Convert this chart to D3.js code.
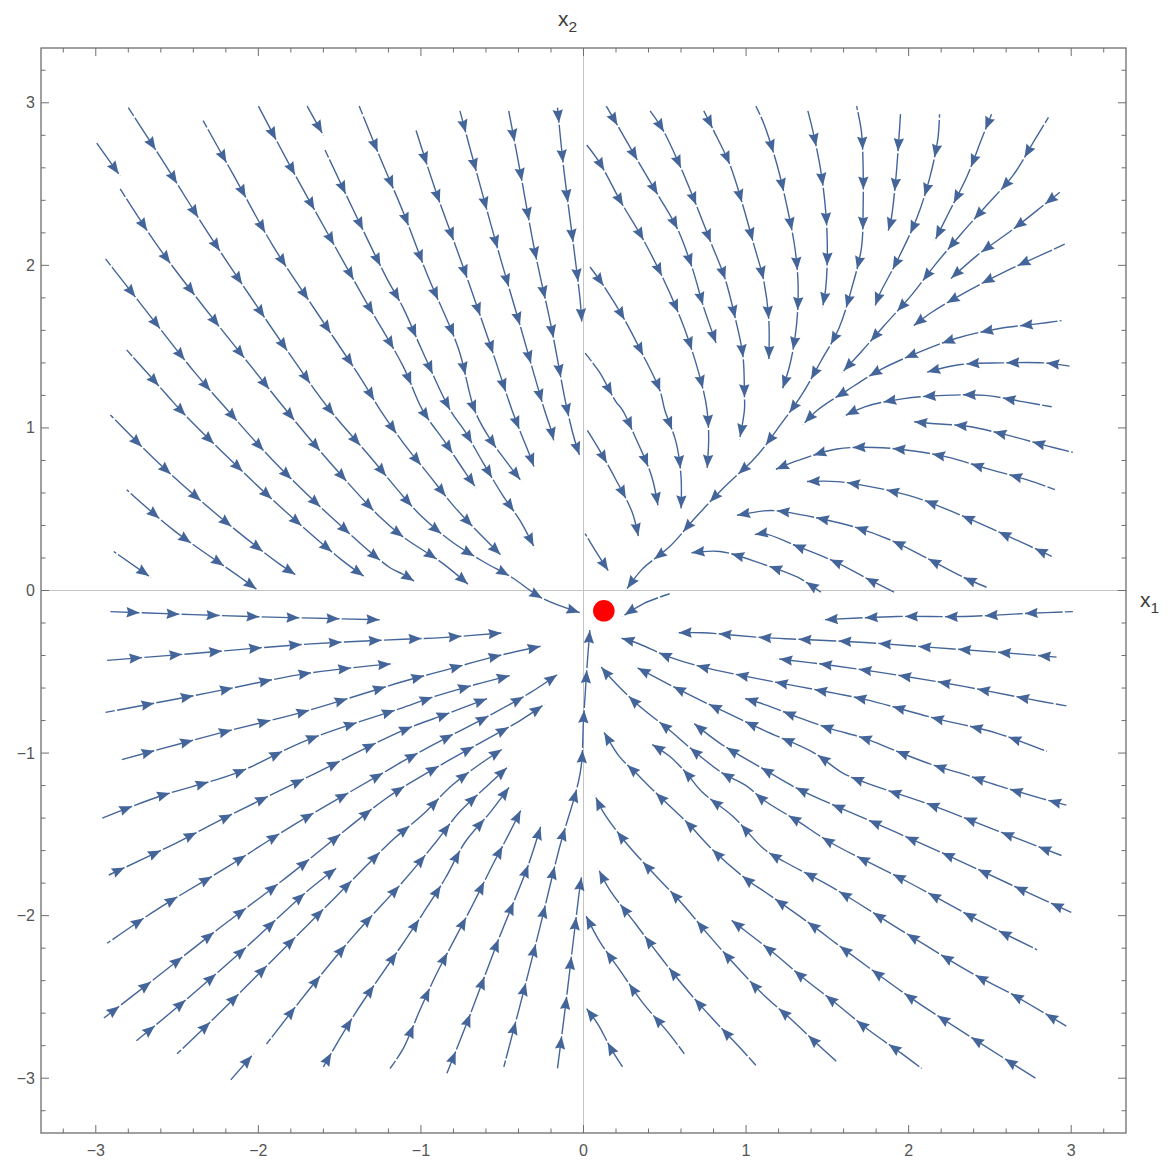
<!DOCTYPE html>
<html>
<head>
<meta charset="utf-8">
<script src="https://cdn.jsdelivr.net/npm/d3@7"></script>
<style>
  html, body { margin: 0; padding: 0; background: #ffffff; }
  svg { display: block; }
</style>
</head>
<body>
<svg id="chart" width="1168" height="1161"></svg>
<script>
// Phase portrait of a planar system: streamlines (x1, x2) converging to a stable equilibrium.

const axisTicks = [-3, -2, -1, 0, 1, 2, 3];
const axisTickLabels = ["\u22123", "\u22122", "\u22121", "0", "1", "2", "3"];
const equilibrium = [0.125, -0.125];

// Streamlines, each a list of [x1, x2] points ordered along the flow.
const upperLeftStreams = [
  [[-3.00,2.76],[-2.85,2.55]],
  [[-2.80,2.97],[-2.58,2.63],[-2.31,2.20],[-2.05,1.81],[-1.77,1.40],[-1.56,1.11],[-1.31,0.82],[-1.11,0.58],[-0.99,0.45],[-0.81,0.30],[-0.62,0.18],[-0.44,0.08],[-0.25,-0.05],[-0.01,-0.14]],
  [[-2.34,2.89],[-2.15,2.55],[-1.91,2.12],[-1.64,1.71],[-1.36,1.29],[-1.25,1.11],[-1.11,0.91],[-0.95,0.71],[-0.79,0.51],[-0.62,0.33],[-0.50,0.21]],
  [[-2.00,2.98],[-1.82,2.64],[-1.57,2.19],[-1.34,1.78],[-1.11,1.38],[-0.99,1.11],[-0.85,0.91],[-0.73,0.73],[-0.66,0.63]],
  [[-1.70,2.98],[-1.60,2.80]],
  [[-1.59,2.71],[-1.42,2.35],[-1.21,1.92],[-1.11,1.74],[-0.99,1.47],[-0.82,1.11],[-0.73,0.98],[-0.62,0.79],[-0.50,0.59],[-0.39,0.43],[-0.30,0.26]],
  [[-1.38,2.98],[-1.25,2.66],[-1.11,2.33],[-0.96,1.94],[-0.77,1.49],[-0.67,1.11],[-0.58,0.94],[-0.48,0.80],[-0.38,0.67]],
  [[-2.85,2.47],[-2.62,2.12],[-2.34,1.75],[-2.03,1.36],[-1.83,1.11],[-1.57,0.80],[-1.25,0.45],[-1.11,0.33],[-0.87,0.17],[-0.70,0.03]],
  [[-2.94,2.04],[-2.69,1.72],[-2.39,1.34],[-2.19,1.11],[-1.91,0.80],[-1.56,0.46],[-1.19,0.14],[-1.11,0.10],[-1.03,0.05]],
  [[-2.81,1.48],[-2.56,1.20],[-2.48,1.11],[-2.22,0.85],[-1.86,0.51],[-1.49,0.19],[-1.34,0.08]],
  [[-2.91,1.08],[-2.63,0.80],[-2.27,0.48],[-1.88,0.17],[-1.76,0.09]],
  [[-2.81,0.62],[-2.52,0.37],[-2.11,0.08],[-2.00,0.00]],
  [[-2.89,0.24],[-2.66,0.08]],
  [[-1.03,2.83],[-0.91,2.46],[-0.74,1.99],[-0.58,1.53],[-0.44,1.11],[-0.39,0.98],[-0.33,0.83],[-0.30,0.75]],
  [[-0.76,2.95],[-0.66,2.58],[-0.53,2.11],[-0.39,1.63],[-0.24,1.11],[-0.20,0.99],[-0.18,0.91]],
  [[-0.46,2.95],[-0.39,2.58],[-0.30,2.09],[-0.20,1.63],[-0.10,1.11],[-0.05,0.91],[-0.02,0.82]],
  [[-0.16,2.97],[-0.12,2.58],[-0.06,2.11],[-0.02,1.78],[-0.01,1.64]]
];

const upperRightStreams = [
  [[0.14,2.98],[0.21,2.86],[0.33,2.65],[0.46,2.43],[0.58,2.22],[0.67,1.98],[0.74,1.74],[0.82,1.51]],
  [[0.41,2.95],[0.49,2.83],[0.59,2.62],[0.69,2.38],[0.78,2.15],[0.87,1.92],[0.93,1.69],[0.98,1.45],[0.99,1.20],[0.99,1.11],[0.96,0.93]],
  [[0.74,2.95],[0.80,2.83],[0.90,2.62],[0.98,2.37],[1.05,2.12],[1.11,1.90],[1.14,1.66],[1.14,1.41]],
  [[1.06,2.98],[1.11,2.87],[1.19,2.62],[1.25,2.37],[1.30,2.11],[1.32,1.88],[1.31,1.63],[1.27,1.39],[1.22,1.23]],
  [[0.02,2.74],[0.10,2.63],[0.23,2.39],[0.35,2.19],[0.47,1.96],[0.57,1.74],[0.65,1.53],[0.73,1.26],[0.76,1.11],[0.77,0.94],[0.76,0.74]],
  [[0.04,1.99],[0.12,1.88],[0.25,1.67],[0.36,1.46],[0.47,1.23],[0.50,1.11],[0.57,0.91],[0.60,0.70],[0.60,0.49]],
  [[0.01,1.46],[0.10,1.34],[0.20,1.16],[0.24,1.11],[0.32,0.94],[0.42,0.70],[0.46,0.51]],
  [[0.02,0.99],[0.10,0.86],[0.20,0.68],[0.30,0.48],[0.34,0.32]],
  [[0.01,0.35],[0.07,0.25],[0.16,0.11]],
  [[1.38,2.95],[1.41,2.83],[1.46,2.58],[1.49,2.33],[1.50,2.09],[1.49,1.86],[1.47,1.74]],
  [[1.68,2.98],[1.71,2.82],[1.72,2.60],[1.72,2.35],[1.71,2.11],[1.65,1.86],[1.57,1.61],[1.46,1.41],[1.34,1.20],[1.19,0.99],[1.11,0.88],[1.04,0.80],[0.85,0.62],[0.69,0.45],[0.53,0.27],[0.36,0.13],[0.26,0.00]],
  [[1.95,2.93],[1.94,2.78],[1.92,2.52],[1.89,2.27],[1.87,2.20]],
  [[2.19,2.93],[2.18,2.78],[2.13,2.54],[2.05,2.29],[1.93,2.03],[1.82,1.82],[1.79,1.74]],
  [[2.51,2.93],[2.45,2.78],[2.36,2.55],[2.25,2.33],[2.16,2.15]],
  [[2.86,2.91],[2.78,2.78],[2.64,2.55],[2.48,2.37],[2.32,2.19],[2.16,2.00],[2.02,1.82],[1.85,1.63],[1.71,1.47],[1.59,1.34]],
  [[2.93,2.45],[2.83,2.37],[2.64,2.22],[2.42,2.06],[2.25,1.91]],
  [[2.96,2.13],[2.83,2.07],[2.59,1.96],[2.36,1.84],[2.14,1.71],[2.02,1.62]],
  [[2.94,1.66],[2.79,1.64],[2.55,1.61],[2.29,1.55],[2.05,1.46],[1.83,1.36],[1.62,1.23],[1.44,1.11],[1.35,1.02]],
  [[2.99,1.38],[2.83,1.40],[2.57,1.40],[2.32,1.39],[2.10,1.34]],
  [[2.88,1.13],[2.71,1.16],[2.47,1.20],[2.22,1.20],[1.97,1.18],[1.73,1.13],[1.60,1.07]],
  [[3.01,0.85],[2.85,0.89],[2.59,0.96],[2.36,1.01],[2.11,1.03],[2.02,1.04]],
  [[2.90,0.62],[2.73,0.68],[2.48,0.75],[2.24,0.82],[2.02,0.86],[1.79,0.88],[1.56,0.87],[1.32,0.80],[1.17,0.74]],
  [[2.88,0.21],[2.73,0.28],[2.51,0.38],[2.28,0.48],[2.05,0.57],[1.81,0.63],[1.56,0.67],[1.36,0.67]],
  [[2.48,0.02],[2.34,0.08],[2.11,0.20],[1.89,0.31],[1.67,0.39],[1.42,0.45],[1.19,0.49],[1.11,0.49],[0.93,0.46]],
  [[1.91,-0.01],[1.77,0.06],[1.54,0.18],[1.32,0.27],[1.11,0.35],[1.04,0.34]],
  [[1.46,-0.01],[1.32,0.08],[1.11,0.16],[0.84,0.24],[0.65,0.23]]
];

const lowerLeftStreams = [
  [[-2.91,-0.13],[-2.05,-0.16],[-1.24,-0.18]],
  [[-2.93,-0.43],[-2.31,-0.38],[-1.70,-0.33],[-1.11,-0.30],[-0.87,-0.29],[-0.49,-0.26]],
  [[-2.94,-0.75],[-2.31,-0.63],[-1.70,-0.51],[-1.17,-0.45]],
  [[-2.84,-1.04],[-2.21,-0.87],[-1.70,-0.74],[-1.11,-0.56],[-0.85,-0.49],[-0.56,-0.41],[-0.25,-0.34]],
  [[-2.96,-1.40],[-2.62,-1.27],[-2.13,-1.12],[-1.70,-0.92],[-1.11,-0.72],[-0.91,-0.65],[-0.67,-0.58],[-0.44,-0.52]],
  [[-2.92,-1.75],[-2.56,-1.58],[-2.15,-1.37],[-1.64,-1.12],[-1.11,-0.86],[-0.87,-0.77],[-0.58,-0.66]],
  [[-2.93,-2.17],[-2.62,-1.96],[-2.19,-1.70],[-1.78,-1.44],[-1.23,-1.12],[-1.11,-1.05],[-0.87,-0.92],[-0.60,-0.78],[-0.33,-0.63],[-0.15,-0.51]],
  [[-2.95,-2.63],[-2.64,-2.39],[-2.27,-2.10],[-1.86,-1.79],[-1.23,-1.29],[-1.11,-1.21],[-0.89,-1.08],[-0.64,-0.94],[-0.39,-0.80],[-0.24,-0.70]],
  [[-2.75,-2.77],[-2.46,-2.53],[-2.07,-2.19],[-1.70,-1.85],[-1.51,-1.70]],
  [[-2.50,-2.85],[-2.23,-2.59],[-1.86,-2.22],[-1.54,-1.90],[-1.17,-1.53],[-1.11,-1.48],[-0.99,-1.38],[-0.81,-1.20],[-0.64,-1.07],[-0.49,-0.97]],
  [[-2.17,-3.01],[-2.03,-2.85]],
  [[-1.95,-2.79],[-1.70,-2.47],[-1.41,-2.12],[-1.11,-1.79],[-0.91,-1.55],[-0.76,-1.36],[-0.59,-1.20],[-0.46,-1.08]],
  [[-1.60,-2.93],[-1.41,-2.61],[-1.11,-2.17],[-0.99,-1.99],[-0.85,-1.77],[-0.73,-1.55],[-0.57,-1.36],[-0.45,-1.20]],
  [[-1.19,-2.94],[-1.11,-2.82],[-1.01,-2.59],[-0.91,-2.37],[-0.79,-2.14],[-0.68,-1.93],[-0.56,-1.69],[-0.46,-1.50],[-0.38,-1.34]],
  [[-0.84,-2.97],[-0.69,-2.59],[-0.52,-2.14],[-0.34,-1.69],[-0.26,-1.44]],
  [[-0.49,-2.93],[-0.39,-2.55],[-0.27,-2.08],[-0.15,-1.59],[-0.02,-1.12],[0.00,-0.80],[0.02,-0.49],[0.04,-0.23]],
  [[-0.16,-2.94],[-0.11,-2.55],[-0.05,-2.05],[-0.02,-1.81],[-0.01,-1.75]]
];

const lowerRightStreams = [
  [[0.53,-0.02],[0.37,-0.08],[0.24,-0.16]],
  [[3.01,-0.13],[2.75,-0.14],[2.34,-0.16],[1.93,-0.16],[1.47,-0.18]],
  [[2.91,-0.41],[2.55,-0.38],[2.14,-0.35],[1.73,-0.32],[1.32,-0.30],[1.11,-0.29],[0.73,-0.26],[0.57,-0.26]],
  [[2.97,-0.71],[2.75,-0.67],[2.34,-0.59],[1.93,-0.52],[1.52,-0.46],[1.19,-0.42]],
  [[2.85,-0.99],[2.55,-0.88],[2.14,-0.78],[1.73,-0.67],[1.32,-0.59],[1.11,-0.55],[0.73,-0.47],[0.53,-0.41],[0.32,-0.32],[0.22,-0.29]],
  [[2.97,-1.32],[2.82,-1.28],[2.55,-1.20],[2.34,-1.13],[2.14,-1.07],[1.93,-0.99],[1.73,-0.91],[1.52,-0.85],[1.32,-0.78],[1.11,-0.70],[0.98,-0.66]],
  [[2.94,-1.63],[2.55,-1.48],[2.14,-1.32],[1.73,-1.18],[1.59,-1.12],[1.42,-1.00],[1.11,-0.86],[0.73,-0.68],[0.53,-0.58],[0.32,-0.47]],
  [[3.00,-1.98],[2.63,-1.81],[2.22,-1.62],[1.77,-1.42],[1.32,-1.22],[1.11,-1.10],[0.84,-0.94],[0.67,-0.81]],
  [[2.79,-2.21],[2.45,-2.04],[1.99,-1.79],[1.52,-1.55],[1.32,-1.42],[1.11,-1.29],[1.00,-1.20],[0.85,-1.12],[0.67,-0.98],[0.53,-0.86],[0.32,-0.69],[0.16,-0.53],[0.10,-0.46]],
  [[2.97,-2.68],[2.63,-2.48],[2.40,-2.36],[1.97,-2.10],[1.52,-1.82],[1.24,-1.67],[1.11,-1.59],[0.92,-1.39],[0.73,-1.24],[0.63,-1.12],[0.53,-1.02],[0.41,-0.94]],
  [[2.78,-3.00],[2.45,-2.79],[2.02,-2.51],[1.62,-2.22],[1.38,-2.04],[1.11,-1.85],[1.02,-1.79],[0.81,-1.61],[0.63,-1.42],[0.44,-1.24],[0.32,-1.12],[0.22,-1.02],[0.12,-0.86]],
  [[2.08,-2.94],[1.96,-2.85],[1.75,-2.70],[1.54,-2.53],[1.36,-2.39],[1.17,-2.23],[0.99,-2.09],[0.90,-2.02]],
  [[1.56,-2.90],[1.46,-2.81],[1.28,-2.64],[1.11,-2.49],[0.93,-2.30],[0.77,-2.12],[0.61,-1.93],[0.44,-1.75],[0.26,-1.55],[0.12,-1.36],[0.07,-1.26]],
  [[1.06,-2.92],[0.96,-2.81],[0.79,-2.63],[0.63,-2.45],[0.47,-2.25],[0.32,-2.05],[0.16,-1.84],[0.09,-1.71]],
  [[0.62,-2.85],[0.53,-2.73],[0.36,-2.53],[0.22,-2.33],[0.10,-2.16],[0.01,-1.99]],
  [[0.24,-2.93],[0.17,-2.82],[0.09,-2.67],[0.01,-2.56]]
];

// ---- layout ----
const frame = { left: 41, right: 1126, top: 48, bottom: 1133 };
const span = 3.337;
const streamColor = "#44659a";
const frameColor = "#6e6e6e";
const labelColor = "#555555";

const x = d3.scaleLinear().domain([-span, span]).range([frame.left, frame.right]);
const y = d3.scaleLinear().domain([-span, span]).range([frame.bottom, frame.top]);

const svg = d3.select("#chart");

svg.append("defs").append("clipPath").attr("id", "plotClip")
  .append("rect")
  .attr("x", frame.left).attr("y", frame.top)
  .attr("width", frame.right - frame.left).attr("height", frame.bottom - frame.top);

// axes through the origin
const axesG = svg.append("g").attr("stroke", "#c4c4c4").attr("stroke-width", 1);
axesG.append("line").attr("x1", x(0)).attr("x2", x(0)).attr("y1", frame.top).attr("y2", frame.bottom);
axesG.append("line").attr("x1", frame.left).attr("x2", frame.right).attr("y1", y(0)).attr("y2", y(0));

// streamlines with repeated arrowheads
const lineGen = d3.line()
  .x(d => x(d[0]))
  .y(d => y(d[1]))
  .curve(d3.curveCatmullRom.alpha(0.5));

const streams = [].concat(upperLeftStreams, upperRightStreams, lowerLeftStreams, lowerRightStreams);
const streamG = svg.append("g").attr("clip-path", "url(#plotClip)");

const headLen = 13, headHalf = 5.2, spacing = 40, gap = 2.2;

streams.forEach(pts => {
  const path = streamG.append("path")
    .attr("d", lineGen(pts))
    .attr("fill", "none")
    .attr("stroke", streamColor)
    .attr("stroke-width", 1.4);
  const node = path.node();
  const L = node.getTotalLength();
  const tips = [];
  for (let s = L - 2.5; s >= 13; s -= spacing) tips.push(s);
  if (tips.length) {
    const s0 = tips[0];
    const off = (((spacing - gap) - s0) % spacing + spacing) % spacing;
    path.attr("stroke-dasharray", `${spacing - gap},${gap}`).attr("stroke-dashoffset", off);
  }
  tips.forEach(s => {
    const p = node.getPointAtLength(s);
    const q = node.getPointAtLength(Math.max(0, s - 6));
    const ang = Math.atan2(p.y - q.y, p.x - q.x) * 180 / Math.PI;
    streamG.append("path")
      .attr("d", `M0,0L${-headLen},${-headHalf}L${-headLen * 0.88},0L${-headLen},${headHalf}Z`)
      .attr("transform", `translate(${p.x},${p.y}) rotate(${ang})`)
      .attr("fill", streamColor);
  });
});

// equilibrium point
svg.append("circle")
  .attr("cx", x(equilibrium[0]))
  .attr("cy", y(equilibrium[1]))
  .attr("r", 10.8)
  .attr("fill", "#ff0000");

// frame and ticks
const frameG = svg.append("g").attr("stroke", frameColor).attr("fill", "none");
frameG.append("rect")
  .attr("x", frame.left).attr("y", frame.top)
  .attr("width", frame.right - frame.left).attr("height", frame.bottom - frame.top)
  .attr("stroke-width", 1.3);

const minorTicks = d3.range(-16, 17).map(k => k / 5).filter(v => Math.abs(v - Math.round(v)) > 1e-9);
const majorLen = 8, minorLen = 4.5;

function tickSet(values, len) {
  values.forEach(v => {
    frameG.append("line").attr("x1", x(v)).attr("x2", x(v)).attr("y1", frame.bottom).attr("y2", frame.bottom - len);
    frameG.append("line").attr("x1", x(v)).attr("x2", x(v)).attr("y1", frame.top).attr("y2", frame.top + len);
    frameG.append("line").attr("y1", y(v)).attr("y2", y(v)).attr("x1", frame.left).attr("x2", frame.left + len);
    frameG.append("line").attr("y1", y(v)).attr("y2", y(v)).attr("x1", frame.right).attr("x2", frame.right - len);
  });
}
tickSet(axisTicks, majorLen);
tickSet(minorTicks, minorLen);

const labelFont = "'Liberation Sans', Arial, sans-serif";
const labelsG = svg.append("g")
  .attr("font-family", labelFont)
  .attr("font-size", 16)
  .attr("fill", labelColor);

axisTicks.forEach((v, i) => {
  labelsG.append("text")
    .attr("x", x(v)).attr("y", frame.bottom + 23)
    .attr("text-anchor", "middle")
    .text(axisTickLabels[i]);
  labelsG.append("text")
    .attr("x", frame.left - 6).attr("y", y(v) + 5.5)
    .attr("text-anchor", "end")
    .text(axisTickLabels[i]);
});

// axis names with subscripts
const nameG = svg.append("g").attr("font-family", labelFont).attr("fill", "#3c3c3c");
const topName = nameG.append("text").attr("x", 558).attr("y", 26);
topName.append("tspan").attr("font-size", 21).text("x");
topName.append("tspan").attr("font-size", 15.5).attr("dy", 6).text("2");

const rightName = nameG.append("text").attr("x", 1140).attr("y", 607);
rightName.append("tspan").attr("font-size", 21).text("x");
rightName.append("tspan").attr("font-size", 15.5).attr("dy", 6).text("1");
</script>
</body>
</html>
